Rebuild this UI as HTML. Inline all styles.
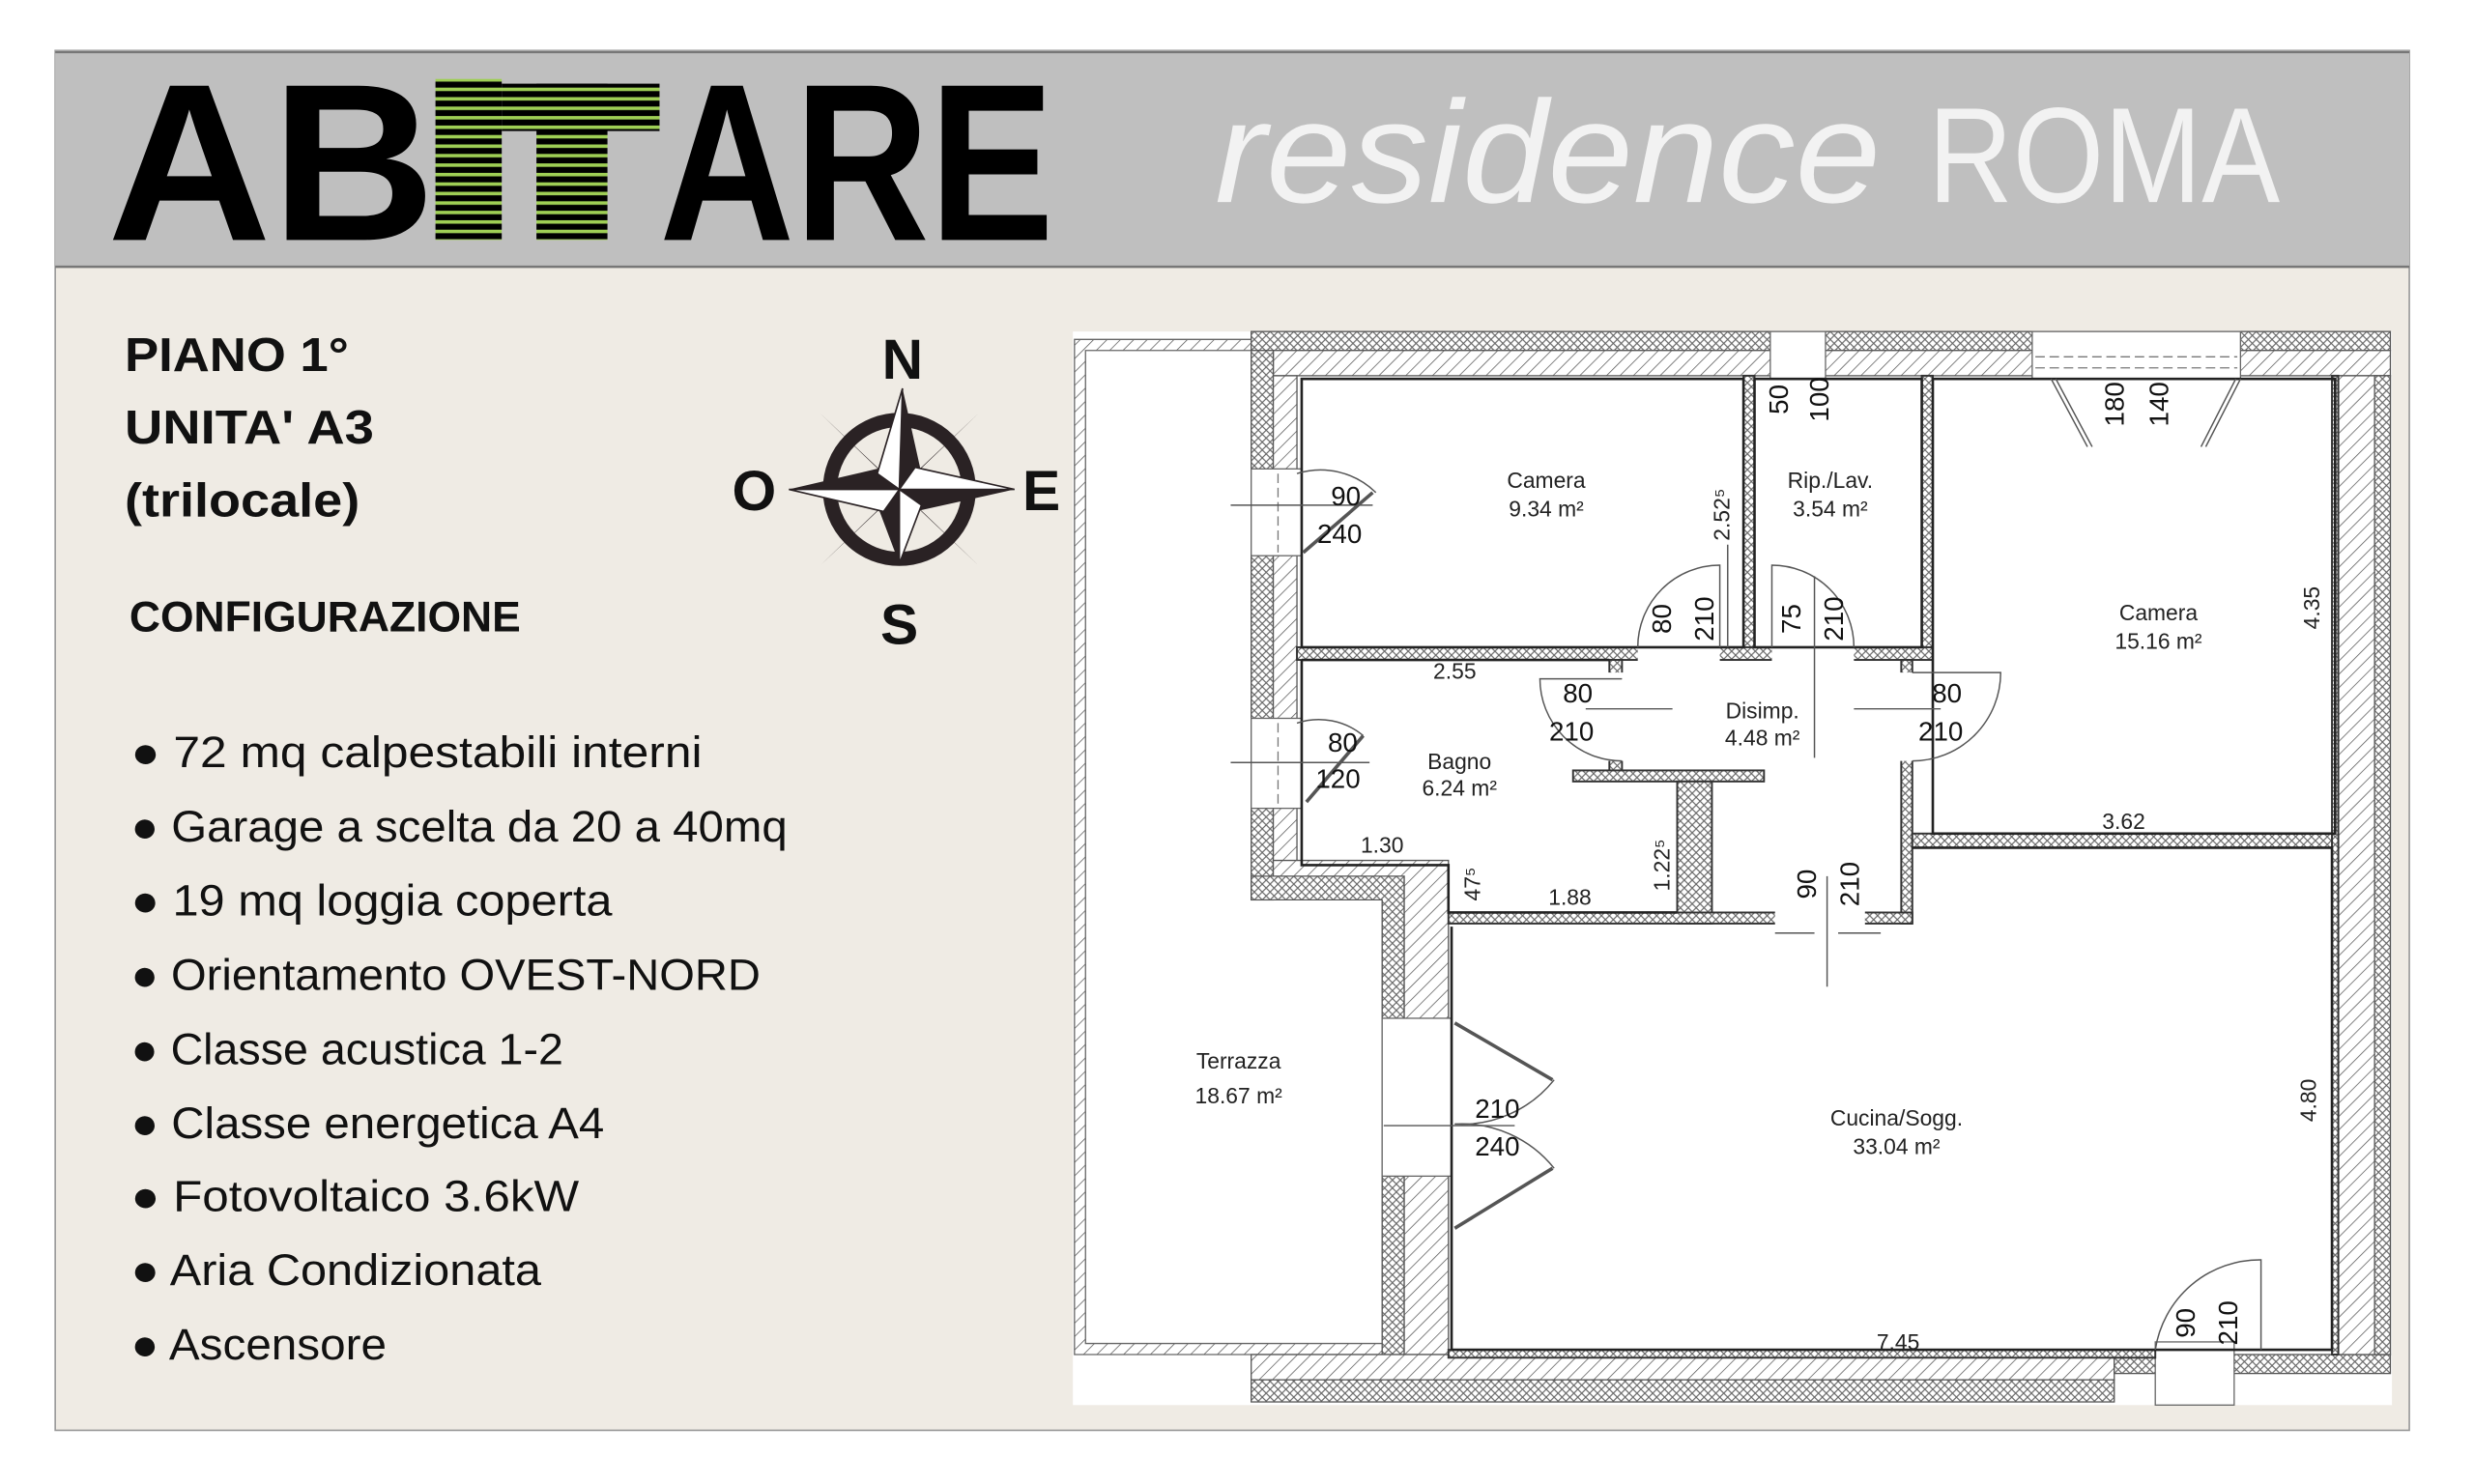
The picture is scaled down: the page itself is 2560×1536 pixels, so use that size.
<!DOCTYPE html>
<html><head><meta charset="utf-8"><style>
html,body{margin:0;padding:0;background:#fff;}
svg{display:block;}
.l{font-family:"Liberation Sans",sans-serif;font-weight:bold;fill:#111;}
.b{font-family:"Liberation Sans",sans-serif;fill:#111;}
.p{font-family:"Liberation Sans Narrow","Liberation Sans",sans-serif;fill:#222;font-size:14px;text-anchor:middle;}
.d{font-family:"Liberation Sans Narrow","Liberation Sans",sans-serif;fill:#111;font-size:17px;text-anchor:middle;}
</style></head><body>
<svg width="2560" height="1536" viewBox="0 0 1568 940" preserveAspectRatio="none" xmlns="http://www.w3.org/2000/svg">
<defs>
<pattern id="h" width="6" height="6" patternUnits="userSpaceOnUse" patternTransform="rotate(45)">
<rect width="6" height="6" fill="#fff"/><line x1="0" y1="0" x2="0" y2="6" stroke="#555" stroke-width="0.9"/></pattern>
<pattern id="x" width="5" height="5" patternUnits="userSpaceOnUse">
<rect width="5" height="5" fill="#fff"/><path d="M0 0L5 5M5 0L0 5" stroke="#666" stroke-width="0.7"/></pattern>
<pattern id="s" width="10" height="6" patternUnits="userSpaceOnUse">
<rect width="10" height="6" fill="#000"/><rect y="1.5" width="10" height="2.2" fill="#9fcf55"/></pattern>
</defs>
<rect width="1568" height="940" fill="#fff"/>
<rect x="35" y="32" width="1492" height="874" fill="#efebe4" stroke="#999" stroke-width="1"/>
<rect x="35" y="32" width="1492" height="137" fill="#bfbfbf"/>
<line x1="35" y1="33" x2="1527" y2="33" stroke="#777" stroke-width="1.5"/>
<line x1="35" y1="169" x2="1527" y2="169" stroke="#777" stroke-width="1.5"/>
<!-- logo -->
<text x="68" y="152" class="l" font-size="142" textLength="208" lengthAdjust="spacingAndGlyphs" style="fill:#000">AB</text>
<rect x="276" y="50" width="42" height="102" fill="url(#s)"/>
<rect x="318" y="53" width="100" height="30" fill="url(#s)"/>
<rect x="340" y="53" width="45" height="99" fill="url(#s)"/>
<text x="418" y="152" class="l" font-size="142" textLength="250" lengthAdjust="spacingAndGlyphs" style="fill:#000">ARE</text>
<text x="770" y="128" font-family="Liberation Sans,sans-serif" font-style="italic" font-size="92" fill="#f2f2f2" textLength="422" lengthAdjust="spacingAndGlyphs">residence</text>
<text x="1222" y="128" font-family="Liberation Sans,sans-serif" font-size="86" fill="#f2f2f2" textLength="223" lengthAdjust="spacingAndGlyphs">ROMA</text>
<!-- left text -->
<text x="79" y="235" class="l" font-size="30" textLength="142" lengthAdjust="spacingAndGlyphs">PIANO 1°</text>
<text x="79" y="281" class="l" font-size="30" textLength="158" lengthAdjust="spacingAndGlyphs">UNITA' A3</text>
<text x="79" y="327" class="l" font-size="30" textLength="149" lengthAdjust="spacingAndGlyphs">(trilocale)</text>
<text x="82" y="400" class="l" font-size="27" textLength="248" lengthAdjust="spacingAndGlyphs">CONFIGURAZIONE</text>
<g class="b" font-size="28">
<text x="83" y="486" textLength="362" lengthAdjust="spacingAndGlyphs">● 72 mq calpestabili interni</text>
<text x="83" y="533" textLength="416" lengthAdjust="spacingAndGlyphs">● Garage a scelta da 20 a 40mq</text>
<text x="83" y="580" textLength="305" lengthAdjust="spacingAndGlyphs">● 19 mq loggia coperta</text>
<text x="83" y="627" textLength="399" lengthAdjust="spacingAndGlyphs">● Orientamento OVEST-NORD</text>
<text x="83" y="674" textLength="274" lengthAdjust="spacingAndGlyphs">● Classe acustica 1-2</text>
<text x="83" y="721" textLength="300" lengthAdjust="spacingAndGlyphs">● Classe energetica A4</text>
<text x="83" y="767" textLength="284" lengthAdjust="spacingAndGlyphs">● Fotovoltaico 3.6kW</text>
<text x="83" y="814" textLength="260" lengthAdjust="spacingAndGlyphs">● Aria Condizionata</text>
<text x="83" y="861" textLength="162" lengthAdjust="spacingAndGlyphs">● Ascensore</text>
</g>
<!-- compass -->
<g>
<circle cx="570" cy="310" r="44" fill="none" stroke="#2a2224" stroke-width="9"/>
<g fill="#2a2224">
<polygon points="520,262 570,310 556,296"/><polygon points="620,262 570,310 584,296"/>
<polygon points="520,358 570,310 556,324"/><polygon points="620,358 570,310 584,324"/>
<polygon points="572,246 570,310 584,300"/><polygon points="570,357 570,310 556,320"/>
<polygon points="500,310 570,310 560,296"/><polygon points="643,310 570,310 580,324"/>
</g>
<g fill="#fff" stroke="#2a2224" stroke-width="1">
<polygon points="572,246 570,310 556,300"/><polygon points="570,357 570,310 584,320"/>
<polygon points="500,310 570,310 560,324"/><polygon points="643,310 570,310 580,296"/>
</g>
</g>
<g class="l" font-size="36" text-anchor="middle">
<text x="572" y="240">N</text><text x="478" y="323">O</text><text x="660" y="323">E</text><text x="570" y="408">S</text>
</g>
<!-- plan -->
<rect x="680" y="210" width="836" height="680" fill="#fff"/>
<path d="M681 215H793V222H688V851H890V858H681Z" fill="url(#h)" stroke="#666" stroke-width="0.8"/>
<g stroke="#555" stroke-width="0.8">
<rect x="793" y="210" width="722" height="12" fill="url(#x)"/>
<rect x="807" y="222" width="708" height="16" fill="url(#h)"/>
<rect x="793" y="222" width="14" height="348" fill="url(#x)"/>
<rect x="807" y="238" width="15" height="316" fill="url(#h)"/>
<path d="M793 555H890V858H876V570H793Z" fill="url(#x)"/>
<path d="M807 545H918V858H890V555H807Z" fill="url(#h)"/>
<rect x="793" y="858" width="547" height="16" fill="url(#h)"/>
<rect x="793" y="874" width="547" height="14" fill="url(#x)"/>
<rect x="1340" y="858" width="175" height="12" fill="url(#x)"/>
<rect x="1480" y="238" width="35" height="620" fill="url(#h)"/>
<rect x="1505" y="238" width="10" height="620" fill="url(#x)"/>
</g>
<g fill="#fff" stroke="#666" stroke-width="0.8">
<rect x="1122" y="210" width="35" height="30"/>
<rect x="1288" y="210" width="132" height="30"/>
<rect x="793" y="297" width="32" height="55"/>
<rect x="793" y="455" width="32" height="57"/>
<rect x="876" y="645" width="44" height="100"/>
<rect x="1366" y="850" width="50" height="40"/>
</g>
<g stroke="#777" stroke-width="0.8" stroke-dasharray="6,3">
<line x1="1290" y1="226" x2="1418" y2="226"/>
<line x1="1290" y1="233" x2="1418" y2="233"/>
<line x1="810" y1="300" x2="810" y2="350"/>
<line x1="810" y1="458" x2="810" y2="510"/>
</g>
<g fill="url(#x)" stroke="#333" stroke-width="1.2">
<rect x="1105" y="238" width="7" height="172"/>
<rect x="1218" y="238" width="7" height="180"/>
<rect x="822" y="410" width="403" height="8"/>
<rect x="1020" y="418" width="8" height="72"/>
<rect x="997" y="488" width="121" height="7"/>
<rect x="1063" y="495" width="22" height="90"/>
<rect x="1205" y="418" width="7" height="167"/>
<rect x="1212" y="528" width="268" height="9"/>
<rect x="918" y="578" width="294" height="7"/>
<rect x="1478" y="238" width="4" height="620"/>
<rect x="918" y="855" width="448" height="5"/>
</g>
<g fill="#fff">
<rect x="1038" y="408" width="52" height="12"/>
<rect x="1123" y="408" width="52" height="12"/>
<rect x="1018" y="426" width="12" height="56"/>
<rect x="1203" y="426" width="11" height="56"/>
<rect x="1125" y="576" width="57" height="11"/>
</g>
<g fill="none" stroke="#222" stroke-width="1.6">
<rect x="825" y="240" width="280" height="170"/>
<rect x="1112" y="240" width="106" height="170"/>
<rect x="1225" y="240" width="255" height="288"/>
<path d="M920 587V855H1478V537H1212"/>
<path d="M825 418H1020M825 418V548H918V578H1063"/>
</g>
<g fill="none" stroke="#555" stroke-width="0.9">
<path d="M1038 410A52 52 0 0 1 1090 358V410"/>
<path d="M1175 410A52 52 0 0 0 1123 358V410"/>
<path d="M1028 482A52 52 0 0 1 976 430H1028"/>
<path d="M1212 482A56 56 0 0 0 1268 426H1212"/>
<path d="M1366 855A67 67 0 0 1 1433 798V855"/>
<path d="M822 300A50 50 0 0 1 872 312"/>
<path d="M822 458A44 44 0 0 1 864 466"/>
<path d="M985 684A75 75 0 0 1 922 712"/>
<path d="M922 712A75 75 0 0 1 985 740"/>
<path d="M1300 240L1323 283M1420 240L1398 283M1303 240L1326 283M1417 240L1395 283"/>
<line x1="1005" y1="449" x2="1060" y2="449"/>
<line x1="1175" y1="449" x2="1230" y2="449"/>
<line x1="1095" y1="345" x2="1095" y2="410"/>
<line x1="1150" y1="365" x2="1150" y2="480"/>
<line x1="1158" y1="555" x2="1158" y2="625"/>
<line x1="1125" y1="591" x2="1150" y2="591"/>
<line x1="1165" y1="591" x2="1192" y2="591"/>
<line x1="780" y1="320" x2="870" y2="320"/>
<line x1="780" y1="483" x2="868" y2="483"/>
<line x1="877" y1="713" x2="960" y2="713"/>
</g>
<g stroke="#555" stroke-width="2.2" fill="none">
<line x1="826" y1="350" x2="870" y2="312"/>
<line x1="828" y1="508" x2="864" y2="466"/>
<line x1="922" y1="648" x2="984" y2="684"/>
<line x1="922" y1="778" x2="984" y2="740"/>
</g>
<text x="980" y="309" class="p">Camera</text><text x="980" y="327" class="p">9.34 m²</text>
<text x="1160" y="309" class="p">Rip./Lav.</text><text x="1160" y="327" class="p">3.54 m²</text>
<text x="1368" y="393" class="p">Camera</text><text x="1368" y="411" class="p">15.16 m²</text>
<text x="1117" y="455" class="p">Disimp.</text><text x="1117" y="472" class="p">4.48 m²</text>
<text x="925" y="487" class="p">Bagno</text><text x="925" y="504" class="p">6.24 m²</text>
<text x="785" y="677" class="p">Terrazza</text><text x="785" y="699" class="p">18.67 m²</text>
<text x="1202" y="713" class="p">Cucina/Sogg.</text><text x="1202" y="731" class="p">33.04 m²</text>
<text x="922" y="430" class="p">2.55</text><text x="876" y="540" class="p">1.30</text>
<text x="995" y="573" class="p">1.88</text><text x="1346" y="525" class="p">3.62</text>
<text x="1203" y="855" class="p">7.45</text>
<text class="p" transform="translate(1096,326) rotate(-90)">2.52⁵</text>
<text class="p" transform="translate(1058,548) rotate(-90)">1.22⁵</text>
<text class="p" transform="translate(938,560) rotate(-90)">47⁵</text>
<text class="p" transform="translate(1470,385) rotate(-90)">4.35</text>
<text class="p" transform="translate(1468,697) rotate(-90)">4.80</text>
<text x="853" y="320" class="d">90</text><text x="849" y="344" class="d">240</text>
<text x="851" y="476" class="d">80</text><text x="848" y="499" class="d">120</text>
<text x="1000" y="445" class="d">80</text><text x="996" y="469" class="d">210</text>
<text x="1234" y="445" class="d">80</text><text x="1230" y="469" class="d">210</text>
<text x="949" y="708" class="d">210</text><text x="949" y="732" class="d">240</text>
<g class="d">
<text transform="translate(1059,392) rotate(-90)">80</text><text transform="translate(1086,392) rotate(-90)">210</text>
<text transform="translate(1141,392) rotate(-90)">75</text><text transform="translate(1168,392) rotate(-90)">210</text>
<text transform="translate(1133,253) rotate(-90)">50</text><text transform="translate(1159,253) rotate(-90)">100</text>
<text transform="translate(1346,256) rotate(-90)">180</text><text transform="translate(1374,256) rotate(-90)">140</text>
<text transform="translate(1151,560) rotate(-90)">90</text><text transform="translate(1178,560) rotate(-90)">210</text>
<text transform="translate(1391,838) rotate(-90)">90</text><text transform="translate(1418,838) rotate(-90)">210</text>
</g>
</svg>
</body></html>
